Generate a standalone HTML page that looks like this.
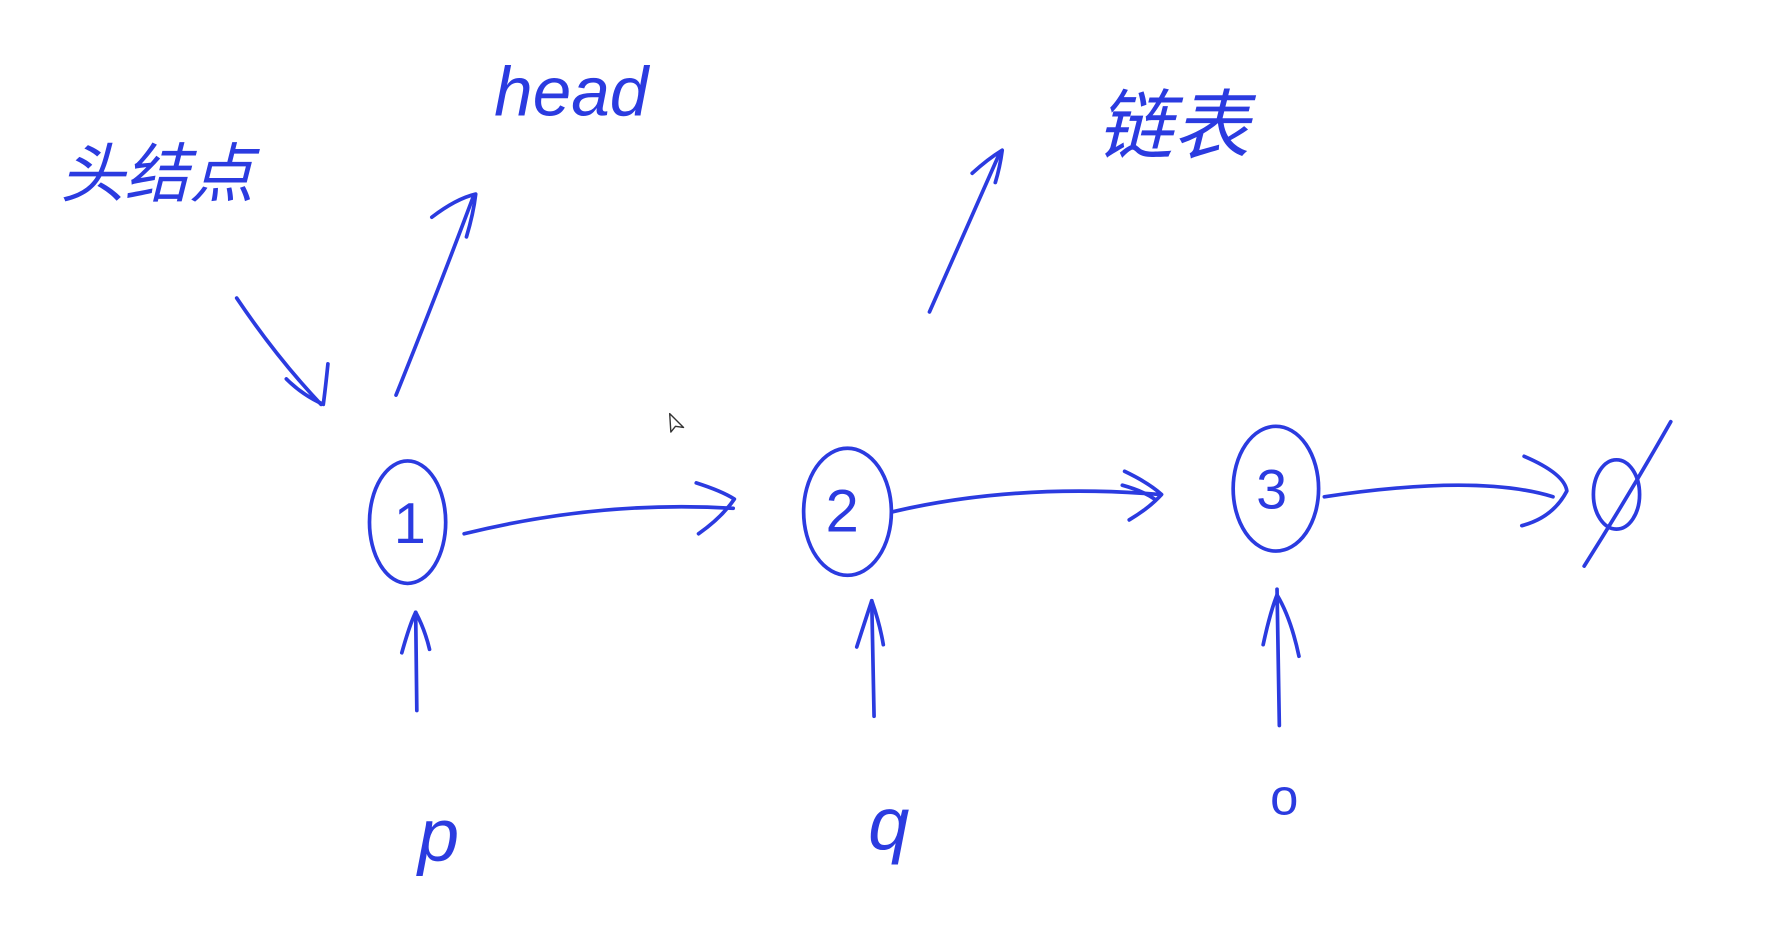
<!DOCTYPE html>
<html><head><meta charset="utf-8"><style>
html,body{margin:0;padding:0;background:#fff;width:1792px;height:930px;overflow:hidden}
svg{display:block}
text{fill:#2b3be0;font-family:"Liberation Sans","Noto Sans CJK SC",sans-serif}
</style></head><body>
<svg width="1792" height="930" viewBox="0 0 1552 805" preserveAspectRatio="none">
<g fill="none" stroke="#2b3be0" stroke-width="3.2" stroke-linecap="round" stroke-linejoin="round">
<path d="M205,258 Q240,310 278,350"/><path d="M284,315 Q282,335 280,350 Q262,342 248,328"/>
<path d="M343,342 Q380,250 410,170"/><path d="M374,188 Q395,172 412,168 Q410,185 404,205"/>
<path d="M805,270 Q838,195 866,132"/><path d="M842,150 Q855,138 868,130 Q866,145 862,158"/>
<ellipse cx="353" cy="452" rx="33" ry="53"/>
<ellipse cx="734" cy="443" rx="38" ry="55"/>
<ellipse cx="1105" cy="423" rx="37" ry="54"/>
<path d="M402,462 Q520,433 635,440"/><path d="M603,418 Q625,425 636,432 Q625,448 605,462"/>
<path d="M773,443 Q880,418 1004,428"/><path d="M974,408 Q995,418 1006,428 Q995,440 978,450"/><path d="M972,420 Q990,425 1000,432"/>
<path d="M1147,430 Q1280,410 1345,430"/><path d="M1320,395 Q1355,410 1357,425 Q1345,448 1318,455"/>
<ellipse cx="1400" cy="428" rx="20" ry="30"/><path d="M1372,490 Q1410,430 1447,365"/>
<path d="M361,615 L360,530"/><path d="M348,565 Q355,540 360,530 Q368,545 372,562"/>
<path d="M757,620 L755,520"/><path d="M742,560 Q750,535 755,520 Q762,540 765,558"/>
<path d="M1108,628 L1106,510"/><path d="M1094,558 Q1100,530 1106,515 Q1118,535 1125,568"/>
<path d="M580,358 L581,374 L585,369 L592,370 Z" stroke-width="1.2" stroke="#333"/>
</g>
<text x="52" y="170" font-size="56" font-style="italic">头结点</text>
<text x="428" y="100" font-size="60" font-style="italic">head</text>
<text x="950" y="132" font-size="66" font-style="italic">链表</text>
<text x="341" y="470" font-size="50">1</text>
<text x="715" y="460" font-size="52">2</text>
<text x="1088" y="440" font-size="48">3</text>
<text x="362" y="745" font-size="64" font-style="italic">p</text>
<text x="752" y="735" font-size="64" font-style="italic">q</text>
<text x="1100" y="705" font-size="44">o</text>
</svg>
</body></html>
